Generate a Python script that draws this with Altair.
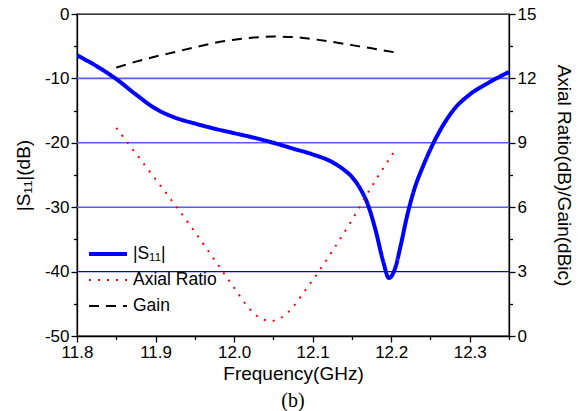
import altair as alt
import pandas as pd

# ---------------- data ----------------
freq_s11 = [11.80, 11.825, 11.85, 11.875, 11.90, 11.925, 11.95, 11.975, 12.00, 12.025,
            12.05, 12.075, 12.10, 12.125, 12.14, 12.15, 12.16, 12.17, 12.18, 12.19,
            12.197, 12.205, 12.212, 12.22, 12.23, 12.24, 12.25, 12.265, 12.28, 12.30,
            12.325, 12.35]
s11_db = [-6.4, -8.1, -10.1, -12.5, -14.7, -16.1, -17.0, -17.8, -18.5, -19.2,
          -20.0, -20.9, -21.8, -23.0, -24.2, -25.3, -27.0, -29.5, -33.5, -38.5,
          -41.0, -39.5, -36.0, -31.5, -27.0, -23.8, -21.0, -17.5, -14.8, -12.5,
          -10.6, -9.0]

freq_ar = [11.85, 11.875, 11.90, 11.925, 11.95, 11.975, 12.00, 12.02, 12.035, 12.047,
           12.06, 12.075, 12.09, 12.10, 12.125, 12.15, 12.175, 12.205]
axial_ratio = [9.7, 8.5, 7.3, 6.1, 4.85, 3.55, 2.25, 1.25, 0.8, 0.7,
               0.85, 1.35, 2.1, 2.6, 3.95, 5.4, 6.95, 8.66]

freq_gain = [11.85, 11.875, 11.90, 11.925, 11.95, 11.975, 12.00, 12.025, 12.05, 12.075,
             12.10, 12.125, 12.15, 12.175, 12.21]
gain_dbic = [12.5, 12.78, 13.02, 13.23, 13.45, 13.65, 13.8, 13.9, 13.95, 13.93,
             13.83, 13.7, 13.55, 13.4, 13.18]

grid_light_db = [-10, -20, -30]
grid_dark_db = [-40]

x_ticks = [11.8, 11.85, 11.9, 11.95, 12.0, 12.05, 12.1, 12.15, 12.2, 12.25, 12.3, 12.35]
y_left_ticks = [0, -5, -10, -15, -20, -25, -30, -35, -40, -45, -50]
y_right_ticks = [0, 1.5, 3, 4.5, 6, 7.5, 9, 10.5, 12, 13.5, 15]

series_names = ["|S₁₁|", "Axial Ratio", "Gain"]
series_colors = ["#0000ff", "#ff0000", "#000000"]
series_dash = [[1, 0], [2, 7], [10, 7]]
series_width = [4, 2, 2]

# ---------------- tables ----------------
df_s11 = pd.DataFrame({"f": freq_s11, "v": s11_db, "series": series_names[0]})
df_right = pd.concat([
    pd.DataFrame({"f": freq_ar, "v": axial_ratio, "series": series_names[1]}),
    pd.DataFrame({"f": freq_gain, "v": gain_dbic, "series": series_names[2]}),
])
df_gl = pd.DataFrame({"lvl": grid_light_db})
df_gd = pd.DataFrame({"lvl": grid_dark_db})

FONT = "Liberation Sans"

legend_common = dict(
    title=None, orient="none", legendX=10, legendY=230, symbolType="stroke",
    symbolSize=1444, labelFont=FONT, labelFontSize=17.5, labelColor="black",
    clipHeight=20, rowPadding=6, padding=0, labelOffset=4, labelLimit=300,
)

color_enc = alt.Color("series:N", scale=alt.Scale(domain=series_names, range=series_colors),
                      legend=alt.Legend(**legend_common))
dash_enc = alt.StrokeDash("series:N", scale=alt.Scale(domain=series_names, range=series_dash),
                          legend=alt.Legend(**legend_common))
width_enc = alt.StrokeWidth("series:N",
                            scale=alt.Scale(type="ordinal", domain=series_names, range=series_width),
                            legend=alt.Legend(**legend_common))

x_enc = alt.X("f:Q", scale=alt.Scale(domain=[11.8, 12.35], nice=False, zero=False),
              axis=alt.Axis(values=x_ticks, title="Frequency(GHz)",
                            labelExpr="abs(round(datum.value*100)) % 10 == 0 ? format(datum.value, '.1f') : ''",
                            tickSize={"condition": {"test": "abs(round(datum.value*100)) % 10 != 0", "value": 3.5}, "value": 6},
                            labelFlush=False, labelOverlap=False, grid=False, titlePadding=4))

y_left_scale = alt.Scale(domain=[-50, 0], nice=False, zero=False)
y_right_scale = alt.Scale(domain=[0, 15], nice=False, zero=False)

grid_light = alt.Chart(df_gl).mark_rule(color="#5a5aff", strokeWidth=1.6).encode(
    y=alt.Y("lvl:Q", scale=y_left_scale, axis=None))
grid_dark = alt.Chart(df_gd).mark_rule(color="#0000cc", strokeWidth=1.4).encode(
    y=alt.Y("lvl:Q", scale=y_left_scale, axis=None))

s11_line = alt.Chart(df_s11).mark_line(interpolate="monotone", clip=True).encode(
    x=x_enc,
    y=alt.Y("v:Q", scale=y_left_scale,
            axis=alt.Axis(orient="left", values=y_left_ticks, title="|S₁₁|(dB)",
                          labelExpr="abs(datum.value) % 10 == 0 ? toString(datum.value) : ''",
                          tickSize={"condition": {"test": "abs(datum.value) % 10 != 0", "value": 3.5}, "value": 6},
                          labelOverlap=False, grid=False, titlePadding=11)),
    color=color_enc, strokeDash=dash_enc, strokeWidth=width_enc,
)

right_lines = alt.Chart(df_right).mark_line(interpolate="monotone", clip=True).encode(
    x=x_enc,
    y=alt.Y("v:Q", scale=y_right_scale,
            axis=alt.Axis(orient="right", values=y_right_ticks, title="Axial Ratio(dB)/Gain(dBic)",
                          labelExpr="datum.value % 3 == 0 ? toString(datum.value) : ''",
                          tickSize={"condition": {"test": "datum.value % 3 != 0", "value": 3.5}, "value": 6},
                          labelOverlap=False, grid=False, titlePadding=18)),
    color=color_enc, strokeDash=dash_enc, strokeWidth=width_enc,
    detail="series:N",
)

chart = alt.layer(grid_light, grid_dark, s11_line, right_lines).resolve_scale(y="independent").properties(
    width=432, height=322,
    autosize=alt.AutoSizeParams(type="none"),
    padding={"left": 77, "top": 14, "right": 71, "bottom": 75},
    title=alt.TitleParams("(b)", orient="bottom", font="Liberation Serif", fontSize=20,
                          fontWeight="normal", color="black", offset=8),
).configure_view(stroke="black", strokeWidth=1.3).configure_axis(
    domainColor="black", domainWidth=1.3, tickColor="black", tickWidth=1.3,
    labelFont=FONT, labelFontSize=17, labelColor="black", labelPadding=2,
    titleFont=FONT, titleFontSize=19, titleFontWeight="normal", titleColor="black",
)

chart.save("out.html", embed_options={"renderer": "svg", "actions": False})
